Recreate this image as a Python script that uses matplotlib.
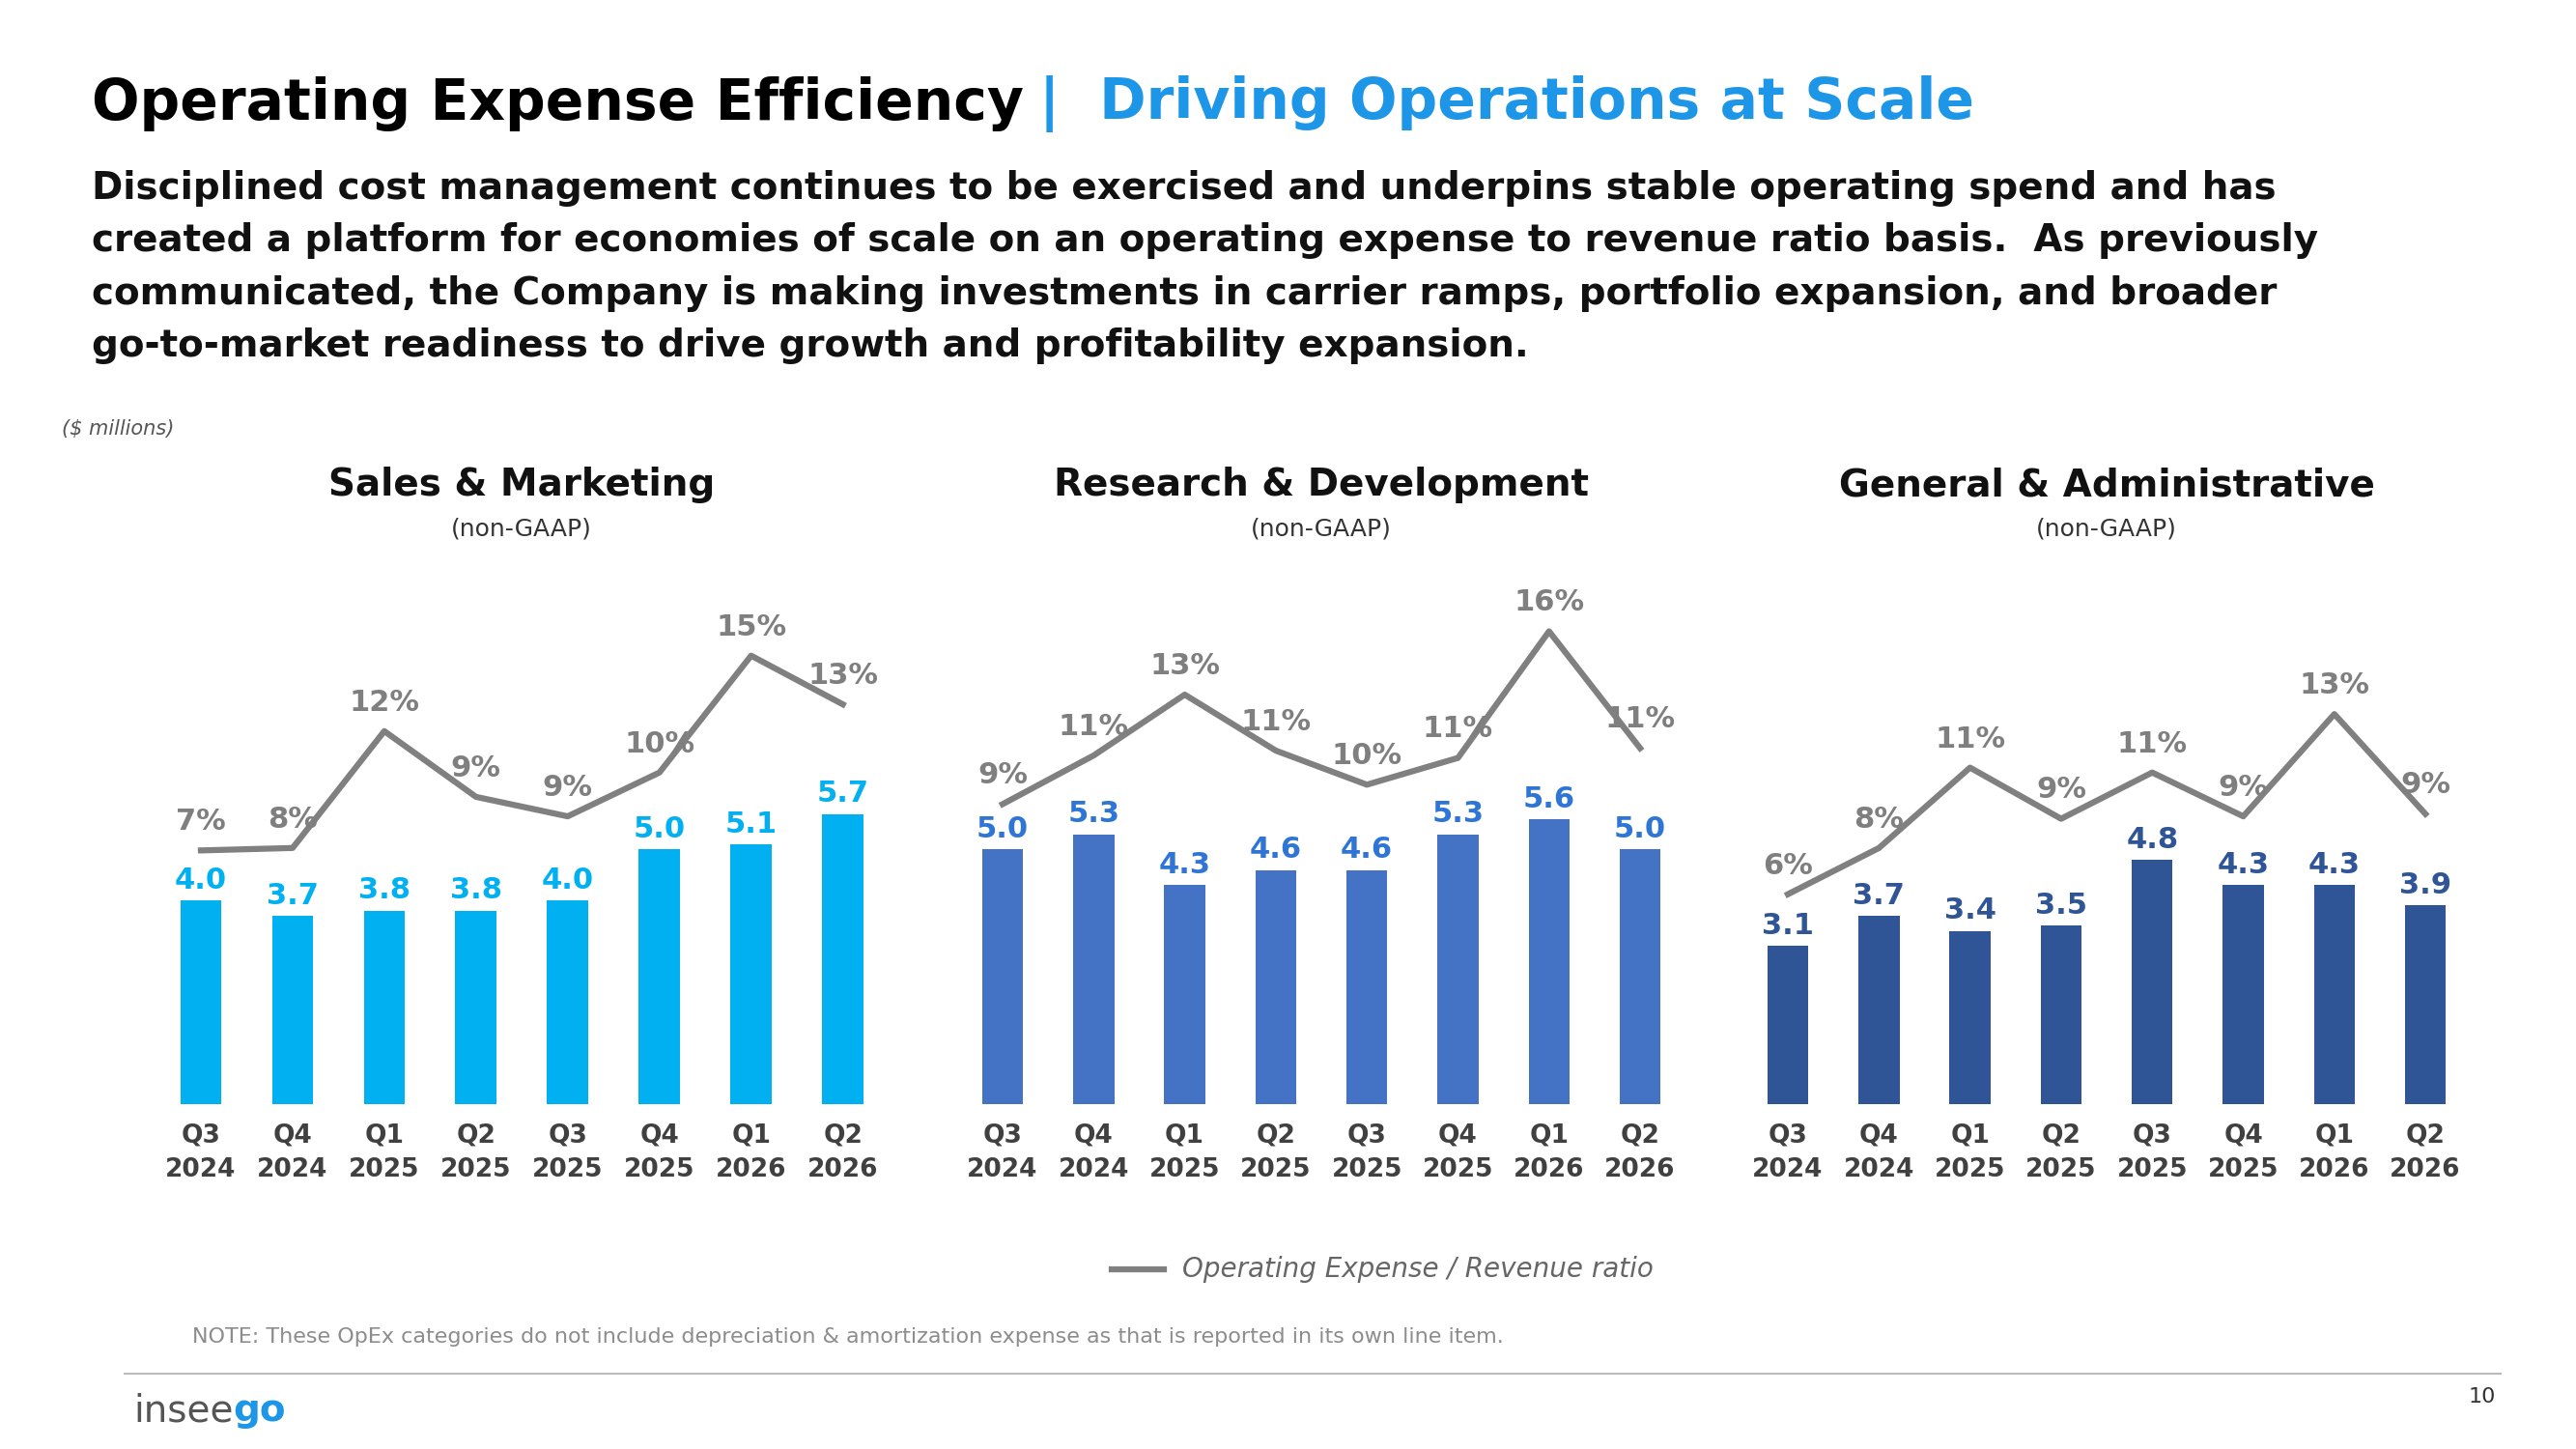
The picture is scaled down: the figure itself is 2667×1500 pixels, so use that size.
import matplotlib.pyplot as plt
import numpy as np

plt.rcParams['font.family'] = ['DejaVu Sans']

quarters = ['Q3\n2024', 'Q4\n2024', 'Q1\n2025', 'Q2\n2025', 'Q3\n2025', 'Q4\n2025', 'Q1\n2026', 'Q2\n2026']

sm_vals = [4.0, 3.7, 3.8, 3.8, 4.0, 5.0, 5.1, 5.7]
sm_ratio = [7.0, 7.1, 11.9, 9.2, 8.4, 10.2, 15.0, 13.0]
sm_lbl = ['7%', '8%', '12%', '9%', '9%', '10%', '15%', '13%']

rd_vals = [5.0, 5.3, 4.3, 4.6, 4.6, 5.3, 5.6, 5.0]
rd_ratio = [8.9, 10.9, 13.4, 11.1, 9.7, 10.8, 16.0, 11.2]
rd_lbl = ['9%', '11%', '13%', '11%', '10%', '11%', '16%', '11%']

ga_vals = [3.1, 3.7, 3.4, 3.5, 4.8, 4.3, 4.3, 3.9]
ga_ratio = [5.2, 7.1, 10.4, 8.3, 10.2, 8.4, 12.6, 8.5]
ga_lbl = ['6%', '8%', '11%', '9%', '11%', '9%', '13%', '9%']

W, H = 1545, 869
fig = plt.figure(figsize=(26.67, 15), dpi=100)

def fx(x): return x / W
def fy(y): return 1 - y / H

# header
t1 = fig.text(fx(55), fy(62), 'Operating Expense Efficiency', fontsize=42, fontweight='bold', va='center', color='black')
fig.canvas.draw()
bb = t1.get_window_extent().transformed(fig.transFigure.inverted())
fig.text(bb.x1 + 0.006, fy(62), '|  Driving Operations at Scale', fontsize=42, fontweight='bold', va='center', color='#1E96E8')
body = ['Disciplined cost management continues to be exercised and underpins stable operating spend and has',
        'created a platform for economies of scale on an operating expense to revenue ratio basis.  As previously',
        'communicated, the Company is making investments in carrier ramps, portfolio expansion, and broader',
        'go-to-market readiness to drive growth and profitability expansion.']
for i, line in enumerate(body):
    fig.text(fx(55), fy(113 + 31.5 * i), line, fontsize=28, fontweight='bold', va='center', color='#111111')
fig.text(fx(37), fy(257), '($ millions)', fontsize=15, style='italic', va='center', color='#555555')

panels = [
    ('Sales & Marketing', sm_vals, sm_ratio, sm_lbl, 93, 533, '#00B0F0', '#00B0F0'),
    ('Research & Development', rd_vals, rd_ratio, rd_lbl, 574, 1011, '#4472C4', '#2E75D6'),
    ('General & Administrative', ga_vals, ga_ratio, ga_lbl, 1045, 1482, '#2F5597', '#2F5597'),
]

x = np.arange(8)
for title, vals, ratio, lbl, left, right, col, lcol in panels:
    ax = fig.add_axes([fx(left), fy(662), fx(right - left), (662 - 330) / H])
    ax.bar(x, vals, width=0.45, color=col)
    ax.set_xlim(-0.5, 7.5)
    ax.set_ylim(0, (662 - 330) / 30.5)
    for xi, v in zip(x, vals):
        ax.text(xi, v + 0.12, f'{v:.1f}', ha='center', va='bottom', fontsize=22, fontweight='bold', color=lcol)
    ax.set_xticks(x)
    ax.set_xticklabels(quarters, fontsize=19, fontweight='bold', color='#404040', linespacing=1.5)
    ax.tick_params(length=0, pad=14)
    ax.set_yticks([])
    for s in ax.spines.values():
        s.set_visible(False)
    ax.patch.set_alpha(0)
    ax2 = ax.twinx()
    ax2.plot(x, ratio, color='#808080', lw=4.5)
    ax2.set_ylim(-3.41, 19.33)
    ax2.set_yticks([])
    for s in ax2.spines.values():
        s.set_visible(False)
    for xi, r, t in zip(x, ratio, lbl):
        ax2.text(xi, r + 0.6, t, ha='center', va='bottom', fontsize=22, fontweight='bold', color='#7F7F7F')
    cx = (left + right) / 2
    fig.text(fx(cx), fy(291), title, fontsize=28, fontweight='bold', ha='center', va='center', color='#111111')
    fig.text(fx(cx), fy(317), '(non-GAAP)', fontsize=18, ha='center', va='center', color='#333333')

# legend
fig.add_artist(plt.Line2D([fx(667), fx(698)], [fy(761), fy(761)], color='#808080', lw=4.5))
fig.text(fx(709), fy(761), 'Operating Expense / Revenue ratio', fontsize=20, style='italic', va='center', color='#666666')
fig.text(fx(115), fy(802), 'NOTE: These OpEx categories do not include depreciation & amortization expense as that is reported in its own line item.',
         fontsize=16, va='center', color='#8C8C8C')
fig.add_artist(plt.Line2D([fx(75), fx(1500)], [fy(824), fy(824)], color='#BBBBBB', lw=1.5))
tl = fig.text(fx(80), fy(846), 'insee', fontsize=28, va='center', color='#555555')
fig.canvas.draw()
lb = tl.get_window_extent().transformed(fig.transFigure.inverted())
fig.text(lb.x1, fy(846), 'go', fontsize=28, fontweight='bold', va='center', color='#1E96E8')
fig.text(fx(1497), fy(838), '10', fontsize=16, ha='right', va='center', color='#333333')

fig.savefig('out.png', dpi=100, facecolor='white')
